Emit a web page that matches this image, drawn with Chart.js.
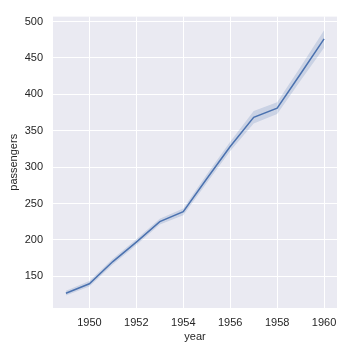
<!DOCTYPE html>
<html>
<head>
<meta charset="utf-8">
<script src="https://cdn.jsdelivr.net/npm/chart.js@4/dist/chart.umd.min.js"></script>
<style>
  html, body { margin: 0; padding: 0; background: #ffffff; }
  #wrap { width: 356px; height: 355px; position: relative; }
</style>
</head>
<body>
<div id="wrap"><canvas id="c" width="356" height="355"></canvas></div>
<script>
const years = [1949, 1950, 1951, 1952, 1953, 1954, 1955, 1956, 1957, 1958, 1959, 1960];
const passengers = [126.7, 139.7, 170.2, 197.0, 225.0, 238.9, 284.0, 328.3, 368.4, 381.0, 428.3, 476.2];
const ciLow = [123.5, 136, 166, 193, 221, 234, 278, 322, 360, 373, 419, 464];
const ciHigh = [130, 143.5, 174, 201, 229, 243, 290, 335, 377, 389, 438, 488];
const xTicks = [1950, 1952, 1954, 1956, 1958, 1960];
const yTicks = [150, 200, 250, 300, 350, 400, 450, 500];

const bgPlugin = {
  id: 'plotBg',
  beforeDraw(chart) {
    const {ctx, chartArea: a} = chart;
    ctx.save();
    ctx.fillStyle = '#eaeaf2';
    ctx.fillRect(a.left, a.top, a.right - a.left, a.bottom - a.top);
    ctx.restore();
  }
};

const pts = arr => years.map((y, i) => ({x: y, y: arr[i]}));
const fontFam = '"Liberation Sans", Arial, sans-serif';

new Chart(document.getElementById('c'), {
  type: 'line',
  data: {
    datasets: [
      { data: pts(ciLow), borderWidth: 0, pointRadius: 0, fill: false, backgroundColor: 'rgba(76,114,176,0.2)', borderColor: 'rgba(0,0,0,0)', tension: 0 },
      { data: pts(ciHigh), borderWidth: 0, pointRadius: 0, fill: '-1', backgroundColor: 'rgba(76,114,176,0.2)', borderColor: 'rgba(0,0,0,0)', tension: 0 },
      { data: pts(passengers), borderWidth: 1.5, pointRadius: 0, fill: false, borderColor: '#4c72b0', tension: 0 }
    ]
  },
  options: {
    responsive: false,
    animation: false,
    devicePixelRatio: 1,
    layout: { padding: { top: 14, right: 19, bottom: 11, left: 7 } },
    plugins: { legend: { display: false }, tooltip: { enabled: false } },
    scales: {
      x: {
        type: 'linear', min: 1948.45, max: 1960.55,
        afterBuildTicks: s => { s.ticks = xTicks.map(v => ({value: v})); },
        afterFit: s => { s.height = 36; },
        grid: { color: '#ffffff', lineWidth: 1, drawTicks: false },
        border: { display: false },
        ticks: { color: '#262626', font: { family: fontFam, size: 11 }, padding: 8, maxRotation: 0, callback: v => String(v) },
        title: { display: true, text: 'year', color: '#262626', font: { family: fontFam, size: 11 }, padding: { top: 0, bottom: 0 } }
      },
      y: {
        type: 'linear', min: 106.4, max: 506.8,
        afterBuildTicks: s => { s.ticks = yTicks.map(v => ({value: v})); },
        afterFit: s => { s.width = 46; },
        grid: { color: '#ffffff', lineWidth: 1, drawTicks: false },
        border: { display: false },
        ticks: { color: '#262626', font: { family: fontFam, size: 11 }, padding: 10, callback: v => String(v) },
        title: { display: true, text: 'passengers', color: '#262626', font: { family: fontFam, size: 11 }, padding: { top: 0, bottom: 0 } }
      }
    }
  },
  plugins: [bgPlugin]
});
</script>
</body>
</html>
